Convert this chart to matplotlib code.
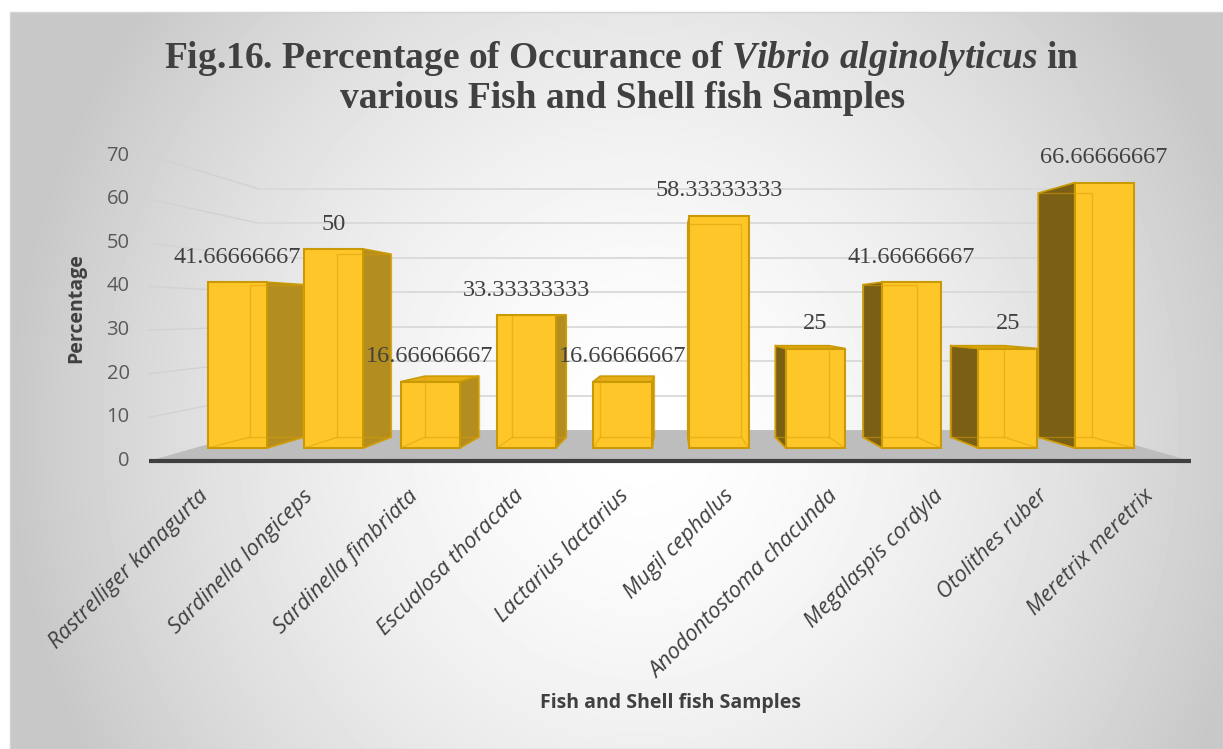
import matplotlib.pyplot as plt
import numpy as np
from matplotlib.patches import Polygon, Rectangle

samples = ['Rastrelliger kanagurta', 'Sardinella longiceps', 'Sardinella fimbriata',
           'Escualosa thoracata', 'Lactarius lactarius', 'Mugil cephalus',
           'Anodontostoma chacunda', 'Megalaspis cordyla', 'Otolithes ruber',
           'Meretrix meretrix']
percent = [41.66666667, 50, 16.66666667, 33.33333333, 16.66666667,
           58.33333333, 25, 41.66666667, 25, 66.66666667]
value_labels = ['41.66666667', '50', '16.66666667', '33.33333333', '16.66666667',
                '58.33333333', '25', '41.66666667', '25', '66.66666667']
yticks = [0, 10, 20, 30, 40, 50, 60, 70]

plt.rcParams['mathtext.fontset'] = 'custom'
plt.rcParams['mathtext.rm'] = 'Liberation Serif:bold'
plt.rcParams['mathtext.it'] = 'Liberation Serif:italic:bold'

W, H = 1223, 749
fig = plt.figure(figsize=(W / 100, H / 100), dpi=100)

# radial grey background like the Excel chart area
bg = fig.add_axes([0, 0, 1, 1])
xx, yy = np.meshgrid(np.arange(W), np.arange(H))
r = np.hypot((xx - 640) / 600, (yy - 430) / 650)
g = 1 - 0.2 * np.clip(r, 0, 1.05) ** 1.6
g[yy < 12] = 1
g[xx < 10] = 1
bg.imshow(g, cmap='gray', vmin=0, vmax=1, extent=(0, W, H, 0), aspect='auto')
bg.add_patch(Rectangle((10, 12), W - 10, H - 12, fill=False, ec='#d4d4d4', lw=1))
bg.set_xlim(0, W)
bg.set_ylim(H, 0)
bg.axis('off')

# main axes: x = category index, y = percent on the bar front plane
X0, DX = 237.5, 96.3     # pixel of first bar, pixels per category
Y0, DY = 448, 3.98       # pixel of zero, pixels per percent
ax = fig.add_axes([0, 0, 1, 1])
ax.set_xlim(-X0 / DX, (W - X0) / DX)
ax.set_ylim((Y0 - H) / DY, Y0 / DY)
ax.axis('off')
ax.patch.set_alpha(0)

# simple perspective toward a vanishing point
VX, VY = 4.49, 33.9
SXB, SYB = 0.91, 0.92    # bar back face
SF, SB = 1.096, 0.867    # floor front / back wall
L, R = -0.445, 9.426
BW = 0.613


def proj(x, y, sx, sy):
    return VX + (x - VX) * sx, VY + (y - VY) * sy


front_col = '#FFC629'
top_col = '#E8AE18'
side_r = '#B38D1F'
side_l = '#7A5F15'
edge_col = '#C99A06'

# floor
floor = [proj(L, 0, SF, SF), proj(R, 0, SF, SF), proj(R, 0, SB, SB), proj(L, 0, SB, SB)]
ax.add_patch(Polygon(floor, closed=True, fc='#BDBDBD', ec='none', zorder=1))
fl, fr = proj(L, 0, SF, SF), proj(R, 0, SF, SF)
ax.plot([fl[0], fr[0]], [fl[1], fr[1]], color='#3F3F3F', lw=3, zorder=2,
        solid_capstyle='butt')

# gridlines: side wall + back wall, and tick labels
for t in yticks:
    a = proj(L, t, SF, SF)
    b = proj(L, t, SB, SB)
    c = proj(R, t, SB, SB)
    if t > 0:
        ax.plot([a[0], b[0]], [a[1], b[1]], color='#d2d2d2', lw=1, zorder=0.5)
        ax.plot([b[0], c[0]], [b[1], c[1]], color='#d9d9d9', lw=1.3, zorder=0.5)
    ax.annotate(str(t), xy=a, xytext=(-14, 0), textcoords='offset points',
                ha='right', va='center', fontsize=14.5, family='Open Sans',
                color='#595959')

# bars
for i, v in enumerate(percent):
    x0, x1 = i - BW / 2, i + BW / 2
    bk = lambda x, y: proj(x, y, SXB, SYB)
    if x1 < VX:
        ax.add_patch(Polygon([(x1, 0), (x1, v), bk(x1, v), bk(x1, 0)],
                             fc=side_r, ec=edge_col, lw=1.2, zorder=3))
    if x0 > VX:
        ax.add_patch(Polygon([(x0, 0), (x0, v), bk(x0, v), bk(x0, 0)],
                             fc=side_l, ec=edge_col, lw=1.2, zorder=3))
    if v < VY:
        ax.add_patch(Polygon([(x0, v), (x1, v), bk(x1, v), bk(x0, v)],
                             fc=top_col, ec=edge_col, lw=1.2, zorder=3))
    # hidden back edges seen through the glassy front
    back = [bk(x0, 0), bk(x1, 0), bk(x1, v), bk(x0, v), bk(x0, 0)]
    ax.plot([p[0] for p in back], [p[1] for p in back], color='#D9A008',
            lw=1, alpha=0.5, zorder=5)
    for x in (x0, x1):
        p = bk(x, 0)
        ax.plot([x, p[0]], [0, p[1]], color='#D9A008', lw=1, alpha=0.5, zorder=5)

ax.bar(range(len(percent)), percent, width=BW, color=front_col,
       edgecolor=edge_col, linewidth=1.5, zorder=4)

for i, v in enumerate(percent):
    ax.annotate(value_labels[i], xy=(i, v), xytext=(0, 18), textcoords='offset points',
                ha='center', va='center', fontsize=17.5, family='Liberation Serif',
                color='#404040', zorder=6)

# category labels
for i, name in enumerate(samples):
    x, _ = proj(i, 0, 1.09, 1.0)
    ax.text(x + 0.07, (Y0 - 493) / DY, name, rotation=45, rotation_mode='anchor',
            ha='right', va='center', fontsize=15.8, family='Open Sans', style='italic',
            color='#404040')

# titles
fig.text(622 / W, 1 - 58 / H,
         r'Fig.16. Percentage of Occurance of $\mathit{Vibrio\ alginolyticus}$ in',
         ha='center', va='center', fontsize=27, family='Liberation Serif',
         weight='bold', color='#404040')
fig.text(623 / W, 1 - 98 / H, 'various Fish and Shell fish Samples',
         ha='center', va='center', fontsize=27, family='Liberation Serif',
         weight='bold', color='#404040')
fig.text(76 / W, 1 - 308 / H, 'Percentage', rotation=90, ha='center', va='center',
         fontsize=14, family='Open Sans', weight='bold', color='#404040')
fig.text(670 / W, 1 - 703 / H, 'Fish and Shell fish Samples', ha='center', va='center',
         fontsize=14, family='Open Sans', weight='bold', color='#404040')

fig.savefig('out.png', dpi=100)
